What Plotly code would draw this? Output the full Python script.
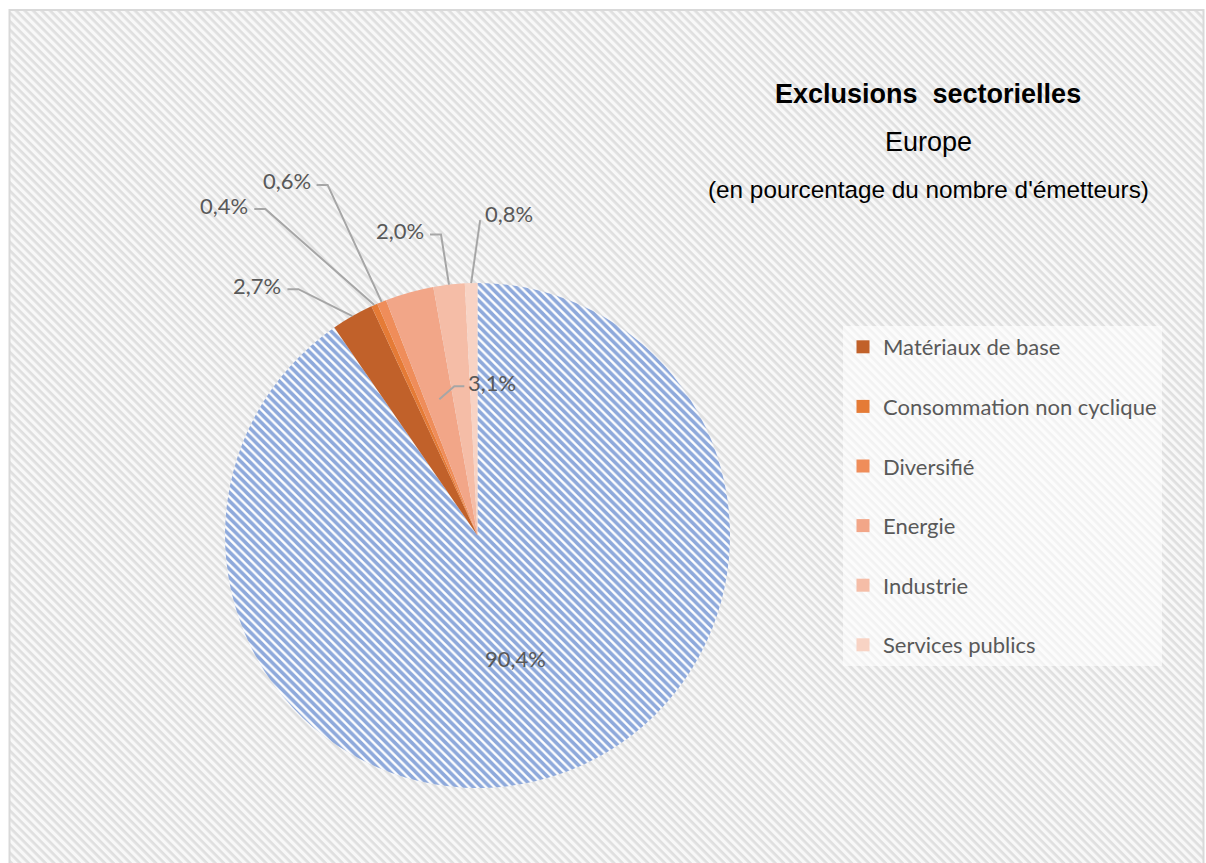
import base64
import math
import plotly.graph_objects as go

W, H = 1206, 863

# ---------------- data ----------------
categories = ["Non exclus", "Matériaux de base", "Consommation non cyclique", "Diversifié",
              "Energie", "Industrie", "Services publics"]
values = [90.4, 2.7, 0.4, 0.6, 3.1, 2.0, 0.8]
legend_categories = categories[1:]

# ---------------- styles ----------------
slice_colors = ["#FFFFFF", "#C1612A", "#E57B36", "#EF8D5A", "#F2A688", "#F5BDA7", "#F8D3C4"]
hatch_color = "#8EA9DB"
label_color = "#595959"
line_color = "#A6A6A6"

# pie geometry (pixels)
CX, CY, R = 477.5, 535.5, 252.5

# label placement: (radius fraction of anchor, (dx, dy) offset of label centre, leader style)
label_layout = [
    (0.51, (0, 0), None),
    (1.0, (-95, -31), "left"),
    (1.0, (-150, -100), "left"),
    (1.0, (-95, -121), "left"),
    (0.56, (53, -17), "right_elbow"),
    (1.0, (-49, -54), "left"),
    (1.0, (38, -70), "right"),
]


def fx(px):
    return px / W


def fy(py):
    return 1 - py / H


def fmt(v):
    return f"{v:.1f}".replace(".", ",") + "%"


fig = go.Figure()

fig.add_trace(go.Pie(
    labels=categories, values=values, sort=False, direction="clockwise", rotation=0,
    marker=dict(
        colors=slice_colors, line=dict(width=0),
        pattern=dict(shape=["\\"] + [""] * (len(values) - 1),
                     fgcolor=[hatch_color] + slice_colors[1:],
                     bgcolor=["#FFFFFF"] + slice_colors[1:],
                     size=6, solidity=0.6, fillmode="replace"),
    ),
    textinfo="none", hoverinfo="label+percent", showlegend=False,
    domain=dict(x=[fx(CX - R), fx(CX + R)], y=[fy(CY + R), fy(CY - R)]),
))

# legend entries (exclusion sectors only)
for cat, col in zip(legend_categories, slice_colors[1:]):
    fig.add_trace(go.Scatter(
        x=[None], y=[None], mode="markers", name=cat, legendgroup=cat,
        marker=dict(symbol="square", size=13, color=col, line=dict(width=0)),
        hoverinfo="skip",
    ))

# data labels and leader lines
total = sum(values)
cum = 0.0
annotations = []
shapes = []
for v, (rf, (dx, dy), style) in zip(values, label_layout):
    theta = 2 * math.pi * (cum + v / 2) / total
    cum += v
    ax_ = CX + rf * R * math.sin(theta)
    ay_ = CY - rf * R * math.cos(theta)
    lx, ly = ax_ + dx, ay_ + dy
    annotations.append(dict(
        x=fx(lx), y=fy(ly), xref="paper", yref="paper", text=fmt(v), showarrow=False,
        xanchor="center", yanchor="middle",
        font=dict(family="Lato", size=22, color=label_color),
    ))
    hw = 25
    pts = None
    if style == "left":
        pts = [(ax_, ay_), (lx + hw + 16, ly + 4), (lx + hw + 5, ly + 4)]
    elif style == "right":
        pts = [(ax_, ay_), (lx - hw - 4, ly + 7)]
    elif style == "right_elbow":
        pts = [(ax_, ay_), (lx - hw - 13, ly + 4), (lx - hw - 3, ly + 4)]
    if pts:
        path = "M " + " L ".join(f"{fx(px):.5f},{fy(py):.5f}" for px, py in pts)
        shapes.append(dict(type="path", xref="paper", yref="paper", path=path,
                           line=dict(color=line_color, width=2)))

# title block
annotations += [
    dict(x=fx(928), y=fy(94), xref="paper", yref="paper", showarrow=False,
         text="<b>Exclusions\u00a0 sectorielles</b>", xanchor="center", yanchor="middle",
         font=dict(family="Liberation Sans", size=27, color="#000000")),
    dict(x=fx(928), y=fy(142), xref="paper", yref="paper", showarrow=False,
         text="Europe", xanchor="center", yanchor="middle",
         font=dict(family="Liberation Sans", size=27, color="#000000")),
    dict(x=fx(928), y=fy(189), xref="paper", yref="paper", showarrow=False,
         text="(en pourcentage du nombre d'émetteurs)", xanchor="center", yanchor="middle",
         font=dict(family="Liberation Sans", size=24.3, color="#000000")),
]

# frame border
shapes.append(dict(type="rect", xref="paper", yref="paper",
                   x0=fx(9.5), x1=fx(1203.5), y0=fy(880), y1=fy(10),
                   line=dict(color="#D9D9D9", width=2), fillcolor="rgba(0,0,0,0)", layer="above"))

# hatched chart-area background
bw, bh = 1195, 870
svg = (f'<svg xmlns="http://www.w3.org/2000/svg" width="{bw}" height="{bh}">'
       '<defs><pattern id="p" patternUnits="userSpaceOnUse" width="6" height="6" '
       'patternTransform="rotate(45)"><rect width="6" height="6" fill="#F8F8F8"/>'
       '<rect width="6" height="2.7" fill="#DFDFDF"/></pattern></defs>'
       '<rect width="100%" height="100%" fill="url(#p)"/></svg>')
src = "data:image/svg+xml;base64," + base64.b64encode(svg.encode()).decode()

fig.update_layout(
    width=W, height=H, margin=dict(l=0, r=0, t=0, b=0),
    paper_bgcolor="#FFFFFF", plot_bgcolor="rgba(0,0,0,0)",
    xaxis=dict(visible=False), yaxis=dict(visible=False),
    images=[dict(source=src, xref="paper", yref="paper", x=fx(9), y=fy(10),
                 sizex=bw / W, sizey=bh / H, xanchor="left", yanchor="top",
                 sizing="stretch", layer="below")],
    annotations=annotations, shapes=shapes,
    legend=dict(x=fx(843), y=fy(326), xanchor="left", yanchor="top",
                bgcolor="rgba(255,255,255,0.6)", traceorder="grouped", tracegroupgap=28,
                font=dict(family="Lato", size=22, color=label_color)),
    showlegend=True,
)

fig.write_html("out.html")
